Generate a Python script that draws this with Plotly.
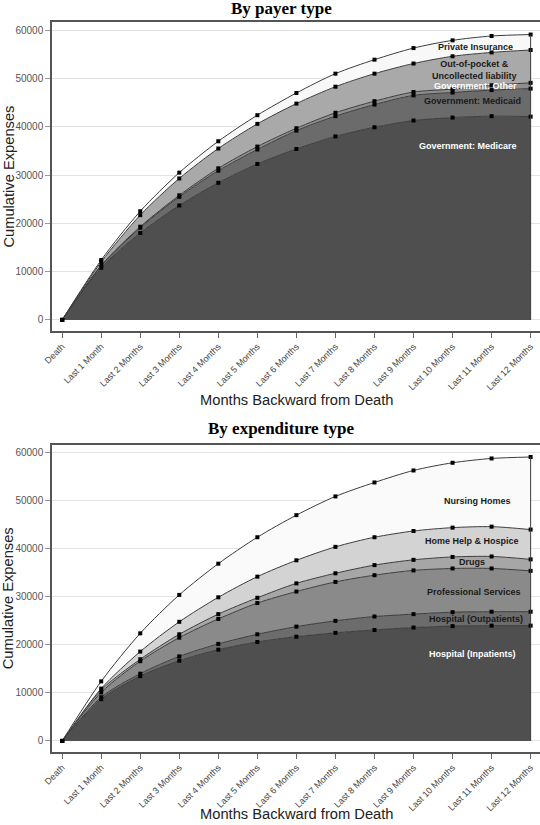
import plotly.graph_objects as go

# ---------------- data ----------------
months = ["Death", "Last 1 Month", "Last 2 Months", "Last 3 Months", "Last 4 Months",
          "Last 5 Months", "Last 6 Months", "Last 7 Months", "Last 8 Months",
          "Last 9 Months", "Last 10 Months", "Last 11 Months", "Last 12 Months"]

# By payer type (component values, stacked)
gov_medicare = [0, 10800, 18000, 23700, 28400, 32300, 35400, 38000, 39900, 41300, 41900, 42200, 42100]
gov_medicaid = [0, 400, 1100, 1800, 2500, 3000, 3800, 4200, 4700, 5200, 5200, 5400, 5800]
gov_other = [0, 100, 200, 300, 500, 600, 500, 700, 700, 700, 700, 1000, 1200]
out_of_pocket = [0, 700, 2400, 3500, 4100, 4700, 5100, 5400, 5700, 5900, 6800, 6800, 6800]
private_ins = [0, 400, 800, 1200, 1500, 1800, 2200, 2700, 2900, 3200, 3300, 3400, 3200]

# By expenditure type (component values, stacked)
hosp_inpatients = [0, 8700, 13500, 16700, 19000, 20600, 21700, 22500, 23100, 23600, 23900, 24000, 24000]
hosp_outpatients = [0, 400, 500, 900, 1200, 1600, 2100, 2500, 2800, 2800, 2900, 2900, 2900]
prof_services = [0, 1000, 2600, 3900, 5200, 6500, 7300, 8100, 8600, 9100, 9100, 9000, 8500]
drugs = [0, 500, 400, 700, 1000, 1100, 1700, 1800, 2100, 2200, 2400, 2500, 2400]
home_help = [0, 300, 1600, 2600, 3500, 4400, 4800, 5500, 5800, 6000, 6100, 6200, 6200]
nursing_homes = [0, 1500, 3800, 5600, 7000, 8200, 9400, 10500, 11400, 12600, 13500, 14200, 15100]

y_tick_vals = [0, 10000, 20000, 30000, 40000, 50000, 60000]
y_tick_text = ["0", "10000", "20000", "30000", "40000", "50000", "60000"]

# ---------------- styling ----------------
x = list(range(len(months)))

payer_series = [
    ("Government: Medicare", gov_medicare, "#4f4f4f"),
    ("Government: Medicaid", gov_medicaid, "#6b6b6b"),
    ("Government: Other", gov_other, "#8e8e8e"),
    ("Out-of-pocket & Uncollected liability", out_of_pocket, "#a9a9a9"),
    ("Private Insurance", private_ins, "#f8f8f8"),
]
expend_series = [
    ("Hospital (Inpatients)", hosp_inpatients, "#4f4f4f"),
    ("Hospital (Outpatients)", hosp_outpatients, "#6c6c6c"),
    ("Professional Services", prof_services, "#8a8a8a"),
    ("Drugs", drugs, "#a6a6a6"),
    ("Home Help & Hospice", home_help, "#d3d3d3"),
    ("Nursing Homes", nursing_homes, "#fafafa"),
]

fig = go.Figure()


def add_stack(series, xa, ya, group):
    total = [0] * len(x)
    for name, vals, color in series:
        fig.add_trace(go.Scatter(
            x=x, y=vals, name=name, stackgroup=group, xaxis=xa, yaxis=ya,
            mode="lines+markers", fillcolor=color,
            line=dict(color="#3c3c3c", width=1, shape="spline", smoothing=0.8),
            marker=dict(symbol="square", size=4, color="black"),
            showlegend=False, hoverinfo="x+y+name", cliponaxis=False,
        ))
        total = [t + v for t, v in zip(total, vals)]
    # right-hand closing edge of the stacked area
    fig.add_trace(go.Scatter(
        x=[x[-1], x[-1]], y=[0, total[-1]], xaxis=xa, yaxis=ya, mode="lines",
        line=dict(color="#3c3c3c", width=1), showlegend=False, hoverinfo="skip",
    ))


add_stack(payer_series, "x", "y", "payer")
add_stack(expend_series, "x2", "y2", "expend")

axis_font = dict(family="Liberation Sans, Arial", size=10, color="#555555")
xaxis_common = dict(
    range=[-0.26, 12.24], tickmode="array", tickvals=x, ticktext=months,
    tickangle=-45, tickfont=dict(family="Liberation Sans, Arial", size=9, color="#444444"),
    showgrid=False, zeroline=False, showline=True, mirror=True, automargin=False,
    linecolor="#555555", linewidth=1.5, ticks="outside", ticklen=5, tickcolor="#666666",
)
yaxis_common = dict(
    range=[-2300, 61700], tickmode="array", tickvals=y_tick_vals, ticktext=y_tick_text,
    tickfont=axis_font, showgrid=True, gridcolor="#e2e2e2", gridwidth=1, automargin=False,
    zeroline=False, showline=True, mirror=True, linecolor="#555555", linewidth=1.5,
    ticks="outside", ticklen=5, tickcolor="#999999",
)

top_dom = [0.5767, 1.0]
bot_dom = [0.0, 0.4212]

fig.update_layout(
    width=540, height=825,
    margin=dict(l=52, r=0, t=22, b=73, autoexpand=False),
    paper_bgcolor="white", plot_bgcolor="white",
    xaxis=dict(domain=[0, 1], anchor="y", **xaxis_common),
    yaxis=dict(domain=top_dom, anchor="x", **yaxis_common),
    xaxis2=dict(domain=[0, 1], anchor="y2", **xaxis_common),
    yaxis2=dict(domain=bot_dom, anchor="x2", **yaxis_common),
)

annotations = []
# panel titles
title_font = dict(family="Liberation Serif, Times New Roman", size=17, color="black")
annotations.append(dict(text="<b>By payer type</b>", x=0.47, y=1.019, xref="paper", yref="paper",
                        showarrow=False, font=title_font, xanchor="center", yanchor="middle"))
annotations.append(dict(text="<b>By expenditure type</b>", x=0.47, y=0.4425, xref="paper", yref="paper",
                        showarrow=False, font=title_font, xanchor="center", yanchor="middle"))
# axis titles
ax_title_font = dict(family="Liberation Sans, Arial", size=14.7, color="#222222")
annotations.append(dict(text="Months Backward from Death", x=0.50, y=0.482, xref="paper", yref="paper",
                        showarrow=False, font=ax_title_font, xanchor="center", yanchor="middle"))
annotations.append(dict(text="Months Backward from Death", x=0.50, y=-0.0845, xref="paper", yref="paper",
                        showarrow=False, font=ax_title_font, xanchor="center", yanchor="middle"))
annotations.append(dict(text="Cumulative Expenses", x=-0.09, y=(top_dom[0] + top_dom[1]) / 2,
                        xref="paper", yref="paper", textangle=-90,
                        showarrow=False, font=ax_title_font, xanchor="center", yanchor="middle"))
annotations.append(dict(text="Cumulative Expenses", x=-0.09, y=(bot_dom[0] + bot_dom[1]) / 2,
                        xref="paper", yref="paper", textangle=-90,
                        showarrow=False, font=ax_title_font, xanchor="center", yanchor="middle"))

# in-area labels: (text, x, y, color, axes)
area_labels = [
    ("Private Insurance", 10.6, 56600, "#1a1a1a", "x", "y"),
    ("Out-of-pocket &<br>Uncollected liability", 10.55, 51800, "#1a1a1a", "x", "y"),
    ("Government: Other", 10.6, 48400, "white", "x", "y"),
    ("Government: Medicaid", 10.5, 45400, "#1a1a1a", "x", "y"),
    ("Government: Medicare", 10.4, 36000, "white", "x", "y"),
    ("Nursing Homes", 10.65, 49900, "#1a1a1a", "x2", "y2"),
    ("Home Help & Hospice", 10.5, 41600, "#1a1a1a", "x2", "y2"),
    ("Drugs", 10.5, 37200, "#1a1a1a", "x2", "y2"),
    ("Professional Services", 10.55, 30900, "#1a1a1a", "x2", "y2"),
    ("Hospital (Outpatients)", 10.6, 25400, "#1a1a1a", "x2", "y2"),
    ("Hospital (Inpatients)", 10.5, 18200, "white", "x2", "y2"),
]
for text, lx, ly, col, xa, ya in area_labels:
    annotations.append(dict(text="<b>" + text + "</b>", x=lx, y=ly, xref=xa, yref=ya,
                            showarrow=False, align="center",
                            font=dict(family="Liberation Sans, Arial", size=9, color=col)))

fig.update_layout(annotations=annotations)

fig.write_html("out.html", config={"displayModeBar": False},
               post_script="document.body.style.margin='0';")
